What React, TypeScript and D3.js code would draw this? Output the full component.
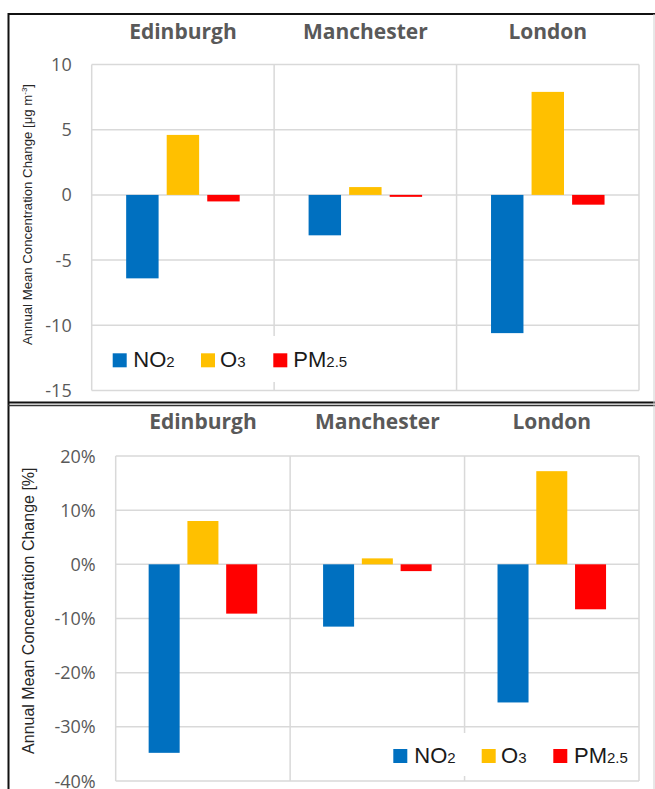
import React from "react";
import * as d3 from "d3";

const cities = ["Edinburgh", "Manchester", "London"];
const pollutants = ["NO2", "O3", "PM2.5"];
const colors = ["#0070C0", "#FFC000", "#FF0000"];

// Absolute change [µg m-3]
const absNO2 = [-6.4, -3.1, -10.6];
const absO3 = [4.6, 0.6, 7.9];
const absPM = [-0.5, -0.15, -0.75];
const absTicks = [10, 5, 0, -5, -10, -15];

// Relative change [%]
const pctNO2 = [-34.8, -11.5, -25.5];
const pctO3 = [8.0, 1.1, 17.2];
const pctPM = [-9.1, -1.25, -8.3];
const pctTicks = [20, 10, 0, -10, -20, -30, -40];

const GRID = "#d9d9d9";
const TXT = "#595959";

type PanelProps = {
  series: number[][];
  ticks: number[];
  fmt: (v: number) => string;
  x0: number;
  x1: number;
  yTop: number;
  yBot: number;
  titleDy: number;
  legend: { x: number[]; textX: number[]; y: number; font: number; sub: number; box: [number, number, number, number] };
};

function Panel({ series, ticks, fmt, x0, x1, yTop, yBot, titleDy, legend }: PanelProps) {
  const xCity = d3.scaleBand<string>().domain(cities).range([x0, x1]).paddingInner(0).paddingOuter(0);
  const xPol = d3
    .scaleBand<string>()
    .domain(pollutants)
    .range([0, xCity.bandwidth()])
    .paddingInner(0.2)
    .paddingOuter(0.85);
  const y = d3
    .scaleLinear()
    .domain([d3.min(ticks)!, d3.max(ticks)!])
    .range([yBot, yTop]);
  const bounds = [...cities.map((c) => xCity(c)!), x1];
  return (
    <g>
      {ticks.map((t) => (
        <line key={"h" + t} x1={x0} x2={x1} y1={y(t)} y2={y(t)} stroke={GRID} strokeWidth={1.5} />
      ))}
      {bounds.map((b, i) => (
        <line key={"v" + i} x1={b} x2={b} y1={yTop} y2={yBot} stroke={GRID} strokeWidth={1.5} />
      ))}
      {ticks.map((t) => (
        <text
          key={"t" + t}
          x={x0 - 20}
          y={y(t) + 6.5}
          textAnchor="end"
          fontFamily="'Open Sans', sans-serif"
          fontSize={18}
          fill={TXT}
        >
          {fmt(t)}
        </text>
      ))}
      {cities.map((c) => (
        <text
          key={"c" + c}
          x={xCity(c)! + xCity.bandwidth() / 2}
          y={yTop - titleDy}
          textAnchor="middle"
          fontFamily="'Open Sans', sans-serif"
          fontWeight={700}
          fontSize={21}
          fill={TXT}
        >
          {c}
        </text>
      ))}
      {series.map((vals, si) =>
        vals.map((v, ci) => {
          const x = xCity(cities[ci])! + xPol(pollutants[si])!;
          const ya = y(Math.max(0, v));
          const yb = y(Math.min(0, v));
          return (
            <rect
              key={"b" + si + "-" + ci}
              x={x}
              y={ya}
              width={xPol.bandwidth()}
              height={Math.max(yb - ya, 0.5)}
              fill={colors[si]}
            />
          );
        })
      )}
      <rect x={legend.box[0]} y={legend.box[1]} width={legend.box[2]} height={legend.box[3]} fill="#fff" />
      {pollutants.map((p, i) => {
        const main = p === "NO2" ? "NO" : p === "O3" ? "O" : "PM";
        const sub = p === "NO2" ? "2" : p === "O3" ? "3" : "2.5";
        return (
          <g key={"l" + p}>
            <rect x={legend.x[i]} y={legend.y - 14} width={14} height={14} fill={colors[i]} />
            <text
              x={legend.textX[i]}
              y={legend.y}
              fontFamily="'Liberation Sans', Arial, sans-serif"
              fontSize={legend.font}
              fill="#1a1a1a"
            >
              {main}
              <tspan fontSize={legend.sub}>{sub}</tspan>
            </text>
          </g>
        );
      })}
    </g>
  );
}

export default function App() {
  return (
    <svg
      width={655}
      height={789}
      viewBox="0 0 655 789"
      style={{ position: "absolute", left: 0, top: 0, background: "#fff" }}
    >
      <rect x={0} y={0} width={655} height={789} fill="#fff" />
      {/* frames */}
      <line x1={8} x2={655} y1={14} y2={14} stroke="#111" strokeWidth={2} />
      <line x1={8.5} x2={8.5} y1={13} y2={789} stroke="#111" strokeWidth={2} />
      <line x1={8} x2={655} y1={402.5} y2={402.5} stroke="#111" strokeWidth={1.8} />
      <line x1={8} x2={655} y1={405.5} y2={405.5} stroke="#333" strokeWidth={1.5} />
      <line x1={654} x2={654} y1={14} y2={789} stroke="#d0d0d0" strokeWidth={1} />

      <Panel
        series={[absNO2, absO3, absPM]}
        ticks={absTicks}
        fmt={(v) => String(v)}
        x0={91.7}
        x1={639}
        yTop={64.5}
        yBot={390.5}
        titleDy={25.5}
        legend={{
          x: [112.7, 201, 273.3],
          textX: [133.3, 220, 293.3],
          y: 367.3,
          font: 22,
          sub: 15,
          box: [100, 336, 260, 46],
        }}
      />
      <text
        transform="translate(32,214.5) rotate(-90)"
        textAnchor="middle"
        fontFamily="'Liberation Sans', Arial, sans-serif"
        fontSize={13.2}
        fill="#262626"
      >
        Annual Mean Concentration Change [μg m
        <tspan fontSize={8} dy={-5}>
          -3
        </tspan>
        <tspan dy={5}>]</tspan>
      </text>

      <Panel
        series={[pctNO2, pctO3, pctPM]}
        ticks={pctTicks}
        fmt={(v) => v + "%"}
        x0={115.7}
        x1={639}
        yTop={456}
        yBot={781}
        titleDy={26.7}
        legend={{
          x: [393.3, 481.7, 553.3],
          textX: [414.3, 501, 574],
          y: 763,
          font: 22,
          sub: 15,
          box: [380, 733, 257, 43],
        }}
      />
      <text
        transform="translate(34,610.7) rotate(-90)"
        textAnchor="middle"
        fontFamily="'Liberation Sans', Arial, sans-serif"
        fontSize={16}
        fill="#262626"
      >
        Annual Mean Concentration Change [%]
      </text>
    </svg>
  );
}
